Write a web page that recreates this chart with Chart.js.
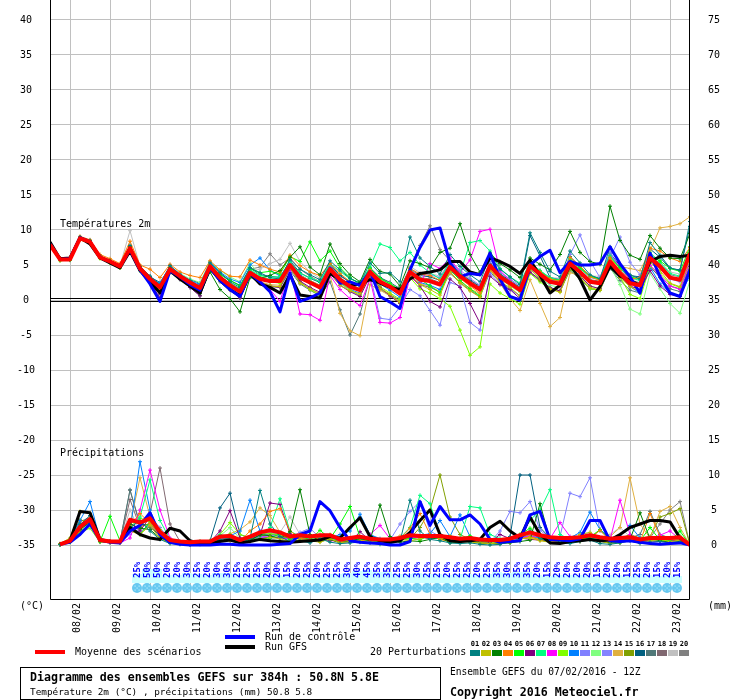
<!DOCTYPE html>
<html>
<head>
<meta charset="utf-8">
<script src="https://cdn.jsdelivr.net/npm/chart.js"></script>
<style>
html,body{margin:0;padding:0;background:#fff;}
#wrap{position:relative;width:740px;height:700px;overflow:hidden;font-family:'DejaVu Sans Mono',monospace;color:#000;}
#c{position:absolute;left:0;top:0;}
.t{position:absolute;white-space:nowrap;font-size:10px;line-height:12px;}
.b{font-weight:bold;font-size:11.6px;line-height:14px;}
.sw{position:absolute;width:10px;height:6px;top:650px;}
.sn{position:absolute;top:640px;width:11px;text-align:center;font-size:7px;font-weight:bold;line-height:8px;}
</style>
</head>
<body>
<div id="wrap">
<canvas id="c" width="740" height="700"></canvas>
<div class="t" style="left:60px;top:218px;">Températures 2m</div>
<div class="t" style="left:60px;top:447px;">Précipitations</div>
<div class="t" style="left:20px;top:600px;">(°C)</div>
<div class="t" style="left:708px;top:600px;">(mm)</div>
<div style="position:absolute;left:35px;top:650px;width:30px;height:4px;background:#ff0000;"></div>
<div class="t" style="left:75px;top:646px;">Moyenne des scénarios</div>
<div style="position:absolute;left:225px;top:635px;width:30px;height:4px;background:#0000ff;"></div>
<div class="t" style="left:265px;top:631px;">Run de contrôle</div>
<div style="position:absolute;left:225px;top:645px;width:30px;height:4px;background:#000;"></div>
<div class="t" style="left:265px;top:641px;">Run GFS</div>
<div class="t" style="left:370px;top:646px;">20 Perturbations</div>
<div id="legsw"></div>
<div style="position:absolute;left:20px;top:667px;width:419px;height:31px;border:1px solid #000;"></div>
<div class="t b" style="left:30px;top:670px;">Diagramme des ensembles GEFS sur 384h : 50.8N 5.8E</div>
<div class="t" style="left:30px;top:686px;font-size:9.4px;">Température 2m (°C) , précipitations (mm) 50.8 5.8</div>
<div class="t" style="left:450px;top:666px;font-size:9.6px;">Ensemble GEFS du 07/02/2016 - 12Z</div>
<div class="t b" style="left:450px;top:685px;">Copyright 2016 Meteociel.fr</div>
</div>
<script>
// ---------- DATA ----------
const dateLabels = ['08/02','09/02','10/02','11/02','12/02','13/02','14/02','15/02','16/02','17/02','18/02','19/02','20/02','21/02','22/02','23/02'];
const dayHours = [12,36,60,84,108,132,156,180,204,228,252,276,300,324,348,372];
const tempHours = []; for (let h = 0; h <= 384; h += 6) tempHours.push(h);
const precipHours = []; for (let h = 6; h <= 384; h += 6) precipHours.push(h);
const pctHours = []; for (let h = 54; h <= 378; h += 6) pctHours.push(h);
const pctValues = [25,50,50,20,20,30,25,20,30,30,25,25,25,20,20,15,20,25,20,25,25,30,40,45,35,35,25,25,30,
  25,25,20,25,25,20,25,35,30,35,35,20,15,20,20,20,20,15,20,20,15,25,20,15,20,15];
const pertColors = ['#008080','#c0c000','#008000','#ff8000','#00ff00','#800080','#00ff80','#ff00ff','#80ff00','#0080ff',
  '#8080ff','#80ff80','#8484ff','#e0b040','#80a000','#006080','#507878','#806870','#c0c0c0','#808080'];

const tempMean = [7.9,5.8,5.8,8.8,8.3,6.1,5.5,4.8,7.4,4.5,3.0, 1.8,4.4,3.4,2.5,1.7,4.8,3.2,2.1,1.2,3.9, 3.0,2.7,2.7,5.0,3.2,2.5,1.8,4.4,2.9,1.9, 1.4,4.0,2.6,1.9,0.9,4.0,2.9,2.7,2.2,4.7, 3.4,2.4,1.5,4.9,3.3,2.4,1.4,4.9,3.7,2.6, 2.3,5.2,4.0,2.6,2.4,5.5,3.8,2.4,2.1,6.0, 4.8,3.2,2.9,6.7];
const tempCtrl = [8.0,5.8,5.9,8.9,8.3,6.1,5.5,4.8,7.2,4.3,2.3, -0.2,4.2,3.3,2.2,1.4,4.6,2.8,1.5,0.5,3.8, 2.6,1.2,-1.7,3.8,-0.2,0.3,1.0,4.6,2.4,2.6, 2.1,4.1,0.5,-0.3,-1.2,4.3,7.5,10.0,10.3,5.3, 3.3,3.8,3.6,6.7,3.0,0.5,0.0,5.0,6.2,7.1, 3.9,5.5,5.0,5.0,5.2,7.6,5.2,3.3,1.0,6.7, 3.3,1.0,0.5,4.3];
const tempGfs = [8.3,5.9,6.0,8.9,8.0,6.0,5.3,4.6,7.0,4.2,2.6, 1.0,4.2,3.0,2.0,1.0,4.6,2.8,1.5,0.6,3.8, 2.3,1.8,1.0,3.6,0.7,0.5,0.3,3.8,2.9,2.0, 2.3,2.9,2.4,1.8,1.5,3.0,3.8,4.0,4.3,5.5, 5.5,4.0,3.6,6.0,5.5,4.8,3.8,5.7,3.5,1.0, 2.1,5.0,3.0,0.0,1.9,4.8,3.4,2.8,2.1,5.5, 6.2,6.4,6.2,6.4];

const t01 = [8.2,5.9,6.0,9.0,8.5,6.3,5.6,5.0,7.8,4.8,3.4, 2.2,4.9,3.6,2.8,1.9,5.3,3.9,2.6,1.8,4.6, 3.9,3.2,3.0,5.8,4.4,3.6,2.9,5.6,4.3,3.1, 2.4,5.3,3.8,3.9,2.6,9.0,6.0,4.8,3.7,6.5, 4.8,3.6,2.6,6.3,4.4,3.3,2.2,9.6,6.8,4.1, 3.3,7.0,5.3,3.6,3.0,7.6,5.0,3.6,3.0,8.2, 6.4,4.6,4.2,11.2];
const t02 = [7.7,5.7,5.9,8.6,8.1,6.0,5.4,4.6,7.2,4.4,2.8, 1.5,4.2,3.1,2.2,1.3,4.5,2.9,1.6,0.5,3.5, 2.5,2.0,1.9,4.6,2.4,1.6,0.9,3.9,2.1,1.3, 0.9,3.5,1.7,0.8,-0.4,3.6,2.2,1.5,0.7,4.1, 2.4,1.3,0.4,4.4,2.6,1.8,0.6,4.4,3.0,1.6, 1.1,4.6,3.2,1.8,1.4,4.9,3.2,1.9,1.2,5.4, 4.2,2.4,1.9,6.0];
const t03 = [8.0,5.8,5.9,8.9,8.4,6.2,5.6,4.9,7.6,4.6,3.1, 1.2,4.6,3.3,2.0,0.9,4.0,1.5,0.2,-1.7,3.2, 3.1,3.5,4.2,6.1,7.6,4.7,3.6,8.0,5.2,3.6, 2.6,5.8,4.1,3.7,2.0,5.6,5.2,4.6,6.8,7.4, 10.9,6.5,4.0,6.7,5.2,4.3,3.2,6.0,5.1,4.3, 6.5,9.8,6.8,5.5,5.1,13.4,8.5,6.4,5.8,9.2, 7.4,6.0,5.9,9.5];
const t04 = [8.1,6.0,6.1,9.1,8.6,6.5,5.9,5.2,8.4,5.0,4.4, 3.2,5.1,4.0,3.5,3.2,5.6,4.3,3.4,3.3,5.7, 5.0,4.4,4.0,6.4,4.9,4.0,3.5,5.2,3.8,2.6, 2.1,4.3,2.8,2.0,1.1,4.5,3.7,3.5,2.8,5.0, 3.1,2.0,1.0,4.3,3.0,2.1,1.3,4.8,4.0,3.0, 2.7,6.1,4.9,3.3,2.8,6.0,4.2,3.0,3.2,7.4, 7.0,6.0,5.5,7.5];
const t05 = [7.8,5.7,5.7,8.7,8.2,6.0,5.3,4.6,7.1,4.2,2.7, 1.4,4.3,3.4,2.6,1.8,5.0,3.6,2.8,2.0,4.5, 3.9,4.1,3.7,6.2,5.5,8.3,5.6,7.0,4.6,3.2, 2.2,4.5,3.1,2.3,1.4,4.2,3.0,2.0,1.0,4.4, 2.8,1.6,0.6,4.5,3.4,2.6,1.7,5.0,4.1,3.0, 2.8,5.7,4.6,3.4,3.0,6.1,4.6,3.3,3.0,6.3, 5.6,4.5,4.1,7.6];
const t06 = [7.9,5.8,5.8,8.8,8.2,6.1,5.5,4.8,7.3,4.3,2.5, 0.3,4.1,3.0,1.8,0.6,4.6,2.9,1.5,0.3,3.5, 2.5,2.0,1.8,4.5,2.7,1.8,1.1,3.8,2.1,1.2, 0.5,3.4,1.8,0.6,-0.5,3.6,2.0,-0.2,-1.0,3.0, 1.8,-0.5,-3.3,3.4,2.2,1.5,0.2,4.0,2.9,1.7, 1.3,4.5,3.4,2.0,1.6,5.2,3.5,2.0,1.5,4.2, 2.0,0.8,0.5,4.8];
const t07 = [8.0,5.9,5.9,8.9,8.4,6.2,5.6,4.9,7.5,4.6,3.2, 2.0,4.5,3.5,2.6,1.9,5.0,3.4,2.4,1.6,4.3, 3.5,3.3,3.3,5.4,3.8,3.2,2.6,5.2,4.1,3.0, 2.5,4.7,8.0,7.5,5.6,6.8,5.0,3.9,3.0,5.5, 3.7,8.2,8.5,7.0,4.5,3.3,2.4,5.4,4.2,3.2, 2.8,5.9,4.5,3.3,3.0,6.4,4.5,3.2,2.8,6.8, 5.4,3.8,3.4,7.1];
const t08 = [7.8,5.7,5.8,8.7,8.2,6.0,5.4,4.7,7.2,4.3,2.6, 1.0,4.2,3.1,2.0,1.0,4.6,3.0,1.9,1.0,3.7, 2.7,1.5,-0.2,4.4,-2.0,-2.1,-2.9,3.5,1.5,0.2, -0.8,3.0,-3.2,-3.3,-2.5,3.3,2.2,5.2,4.5,6.0, 3.9,5.7,9.8,10.1,4.2,2.8,1.6,5.0,3.8,2.7, 2.0,5.3,4.0,2.6,2.2,6.4,4.8,2.7,2.0,5.0, 3.5,2.0,1.5,5.4];
const t09 = [7.7,5.6,5.7,8.6,8.1,5.9,5.4,4.7,7.3,4.4,2.9, 1.6,4.2,3.2,2.3,1.5,4.7,3.1,2.0,1.2,3.8, 3.0,2.6,2.4,4.7,2.6,1.5,0.6,3.9,2.4,1.5, 0.6,3.5,1.9,1.0,0.1,3.2,1.6,1.0,0.2,-0.9, -4.3,-7.9,-6.7,2.3,1.0,0.2,-0.6,3.8,2.6,1.5, 1.2,4.4,3.2,1.6,1.4,5.1,3.3,0.8,0.2,4.8, 3.8,2.3,1.8,5.0];
const t10 = [8.1,5.9,6.0,8.9,8.4,6.2,5.6,4.9,7.5,4.6,3.1, 2.4,4.9,3.7,2.8,2.2,5.4,4.0,3.0,2.5,5.0, 6.0,4.3,3.4,5.4,3.5,2.5,1.7,4.3,2.6,1.5, 1.0,4.0,2.3,1.4,0.4,3.8,2.5,2.1,1.5,4.2, 3.1,2.2,1.4,4.6,3.3,2.5,1.5,4.8,3.8,2.9, 2.4,5.0,3.8,2.6,2.5,5.3,3.4,1.9,1.0,4.7, 2.3,1.0,0.6,3.5];
const t11 = [7.8,5.7,5.7,8.7,8.2,6.0,5.4,4.7,7.2,4.3,2.7, 1.3,4.0,3.0,2.1,1.2,4.5,2.9,1.8,0.8,3.5, 2.4,2.0,1.9,4.4,2.5,1.6,0.9,4.0,2.4,1.3, 0.7,3.6,-2.6,-2.8,-1.0,1.5,0.6,-1.5,-3.6,2.5, 2.0,-3.2,-4.3,3.8,2.3,1.5,0.6,4.5,3.4,2.4, 2.5,6.5,9.3,5.6,3.2,6.8,4.4,2.6,2.2,5.5, 4.6,3.0,2.6,6.1];
const t12 = [7.9,5.8,5.8,8.8,8.3,6.1,5.5,4.8,7.4,4.6,3.2, 2.3,4.8,3.8,3.0,2.5,5.5,4.2,3.3,2.6,5.3, 3.4,3.0,3.1,5.4,3.5,2.8,2.1,4.7,3.1,2.1, 1.7,4.4,3.0,2.4,1.5,4.3,3.1,2.9,2.3,4.6, 3.3,2.3,1.5,4.6,3.0,2.0,1.1,4.4,3.2,2.1, 1.8,4.6,3.5,2.0,1.6,4.8,2.2,-1.3,-2.0,3.8, 1.6,-0.5,-1.9,2.8];
const t13 = [8.0,5.9,5.9,8.9,8.4,6.2,5.5,4.8,7.4,4.5,3.0, 1.9,4.5,3.5,2.6,1.8,4.9,3.3,2.2,1.4,4.0, 3.2,2.9,2.9,5.2,3.4,2.7,2.0,4.6,3.1,2.1, 1.6,4.3,2.8,2.2,1.3,4.5,3.6,3.6,3.2,5.5, 4.3,3.1,2.1,5.5,4.0,3.0,2.0,5.4,4.2,3.1, 2.9,5.9,4.6,3.2,2.9,6.0,9.0,5.4,3.6,6.2, 4.7,3.3,2.9,6.5];
const t14 = [7.8,5.7,5.8,8.7,8.2,6.0,5.4,4.7,7.2,4.3,2.7, 1.2,4.1,3.1,2.1,1.2,4.5,2.8,1.6,0.7,3.6, 2.6,2.2,2.1,4.6,2.6,1.6,0.8,3.5,-1.9,-4.4, -5.1,2.2,1.4,0.6,-0.3,3.5,2.3,2.0,1.2,3.9, 2.6,1.6,0.9,4.3,2.4,0.2,-1.5,2.9,-0.5,-3.8, -2.5,3.9,3.5,2.5,2.6,5.8,4.8,4.5,4.2,7.0, 10.3,10.5,10.9,11.9];
const t15 = [7.9,5.8,5.8,8.8,8.3,6.1,5.5,4.8,7.4,4.5,2.9, 1.7,4.4,3.4,2.5,1.7,4.8,3.2,2.1,1.2,3.9, 3.0,2.6,2.6,4.9,3.1,2.4,1.7,4.4,2.9,1.9, 1.4,4.1,2.7,2.0,1.0,4.1,3.0,2.8,2.3,4.8, 3.5,2.5,1.6,5.0,3.4,2.5,1.5,5.0,3.8,2.7, 2.4,5.3,4.1,2.7,2.5,5.6,3.9,2.5,2.2,6.1, 4.9,3.3,3.0,6.8];
const t16 = [8.0,5.8,5.9,8.9,8.4,6.2,5.6,4.9,7.4,4.7,3.3, 2.5,4.7,3.6,2.9,2.4,5.2,3.8,2.8,2.1,4.6, 3.6,3.4,3.2,5.6,3.9,3.1,2.5,5.1,3.5,2.6, 2.1,4.6,3.2,2.5,1.6,4.5,3.5,3.3,2.8,5.2, 3.8,2.8,1.9,5.2,3.7,2.8,1.8,9.2,6.3,3.2, 2.9,6.2,4.8,3.4,3.1,6.7,4.9,3.5,3.3,7.3, 6.1,4.5,4.3,10.5];
const t17 = [7.8,5.7,5.7,8.7,8.1,6.0,5.4,4.6,7.1,4.2,2.6, 0.8,3.9,2.9,1.8,0.6,4.3,2.6,1.4,0.3,3.3, 2.4,1.9,1.8,4.2,2.3,1.4,0.6,2.6,-1.4,-5.0, -2.0,3.2,1.5,0.8,-0.1,3.4,2.2,1.8,1.2,3.8, 2.5,1.4,0.5,4.0,2.6,1.6,0.6,3.9,2.8,1.8, 1.3,4.2,3.0,1.6,1.4,4.5,2.8,1.4,1.0,4.8, 3.2,1.6,1.2,5.0];
const t18 = [7.9,5.8,5.8,8.8,8.3,6.1,5.5,4.8,7.5,4.6,3.1, 1.9,4.6,3.6,2.7,1.9,5.0,3.4,2.3,1.4,4.2, 3.3,3.0,2.9,5.4,3.6,2.8,2.1,4.9,3.5,2.5, 2.0,4.5,3.0,2.4,1.5,4.4,3.2,3.0,2.5,4.9, 3.6,2.6,1.7,5.1,3.5,2.6,1.6,5.1,3.9,2.8, 2.6,5.3,4.1,2.7,2.6,5.7,4.0,2.6,2.3,4.6, 3.5,2.0,1.6,5.6];
const t19 = [8.0,5.9,5.9,8.9,8.4,6.2,5.6,4.9,9.9,4.8,3.2, 1.6,4.3,3.3,2.4,1.5,4.6,3.1,2.0,1.0,4.1, 4.4,5.2,5.8,8.1,5.5,4.0,3.1,5.2,3.6,2.4, 2.0,4.6,3.2,2.5,1.6,4.8,3.9,3.8,3.4,5.6, 4.0,3.0,2.1,5.3,3.8,3.0,2.0,5.3,4.2,3.2, 3.1,5.9,4.7,3.4,3.4,6.3,4.3,3.0,2.8,6.6, 5.5,4.0,3.7,7.3];
const t20 = [8.2,6.0,6.0,9.0,8.5,6.3,5.7,5.0,7.7,4.8,3.4, 2.1,4.7,3.6,2.7,2.0,5.0,3.4,2.4,1.6,4.4, 4.7,6.6,5.0,6.0,4.4,3.4,2.6,4.9,3.2,2.2, 1.6,4.4,3.0,2.3,1.3,4.6,7.8,10.6,7.2,5.6, 4.0,2.9,2.0,5.1,3.6,2.7,1.7,5.1,4.0,3.0, 2.7,5.6,4.3,2.9,2.7,5.9,4.1,2.8,2.5,6.4, 5.2,3.6,3.3,7.2];

const precipMean = [0.1,0.6,2.6,3.7,0.7,0.5,0.5,3.6,3.2,3.8, 1.9,0.7,0.5,0.4,0.5,0.5,1.2,1.3,0.7,1.2, 1.8,2.1,1.8,1.2,1.4,1.2,1.4,1.4,0.8,1.0, 1.2,0.9,0.8,0.8,1.0,1.4,1.3,1.3,1.3,1.1, 0.9,1.0,0.8,0.7,0.7,0.9,1.4,1.8,1.4,1.1, 1.0,1.0,1.1,1.4,1.1,0.9,1.0,1.1,0.8,1.0, 1.0,1.0,1.1,0.0];
const precipCtrl = [0.1,0.4,1.5,3.0,0.7,0.4,0.3,2.0,2.8,4.6, 1.5,0.4,0.1,0.0,0.0,0.0,0.1,0.1,0.0,0.0, 0.0,0.0,0.1,0.2,1.5,2.0,6.2,4.9,2.5,0.6, 0.4,0.3,0.2,0.0,0.0,0.5,6.2,2.8,5.5,3.6, 3.6,4.3,3.0,0.8,0.4,0.5,0.6,4.3,4.8,0.8, 0.7,0.6,0.9,3.5,3.5,0.6,0.5,0.6,0.4,0.2, 0.1,0.2,0.3,0.0];
const precipGfs = [0.1,0.6,4.8,4.6,0.8,0.5,0.5,2.5,1.5,1.0, 0.8,2.4,2.0,0.6,0.2,0.3,0.5,0.7,0.3,0.5, 0.8,0.6,0.5,0.4,0.5,0.6,0.7,1.2,1.0,2.5, 3.9,1.2,0.6,0.4,0.6,1.8,3.5,5.0,1.5,0.6, 0.5,0.6,0.8,2.5,3.4,2.0,1.0,4.0,1.5,0.3, 0.2,0.5,0.6,0.8,0.6,0.7,1.5,2.5,3.0,3.5, 3.5,3.3,1.0,0.0];

const p01 = [0.1,0.7,3.0,3.5,0.6,0.4,0.4,2.5,3.5,2.0, 0.8,0.2,0.1,0.0,0.1,0.2,0.8,1.0,0.3,0.9, 7.8,3.0,1.2,0.5,0.6,0.3,0.9,0.4,0.2,0.3, 0.4,0.3,0.1,0.2,0.5,6.4,2.0,0.8,0.6,0.3, 0.2,0.3,0.1,0.0,0.1,0.5,0.8,2.0,0.9,0.4, 0.3,0.2,0.5,0.7,0.2,0.1,0.3,0.6,0.2,0.4, 0.5,0.3,0.4,0.0];
const p02 = [0.2,1.0,4.8,4.5,0.6,0.5,0.3,2.0,1.5,2.8, 0.9,0.3,0.2,0.1,0.2,0.3,0.5,0.6,0.4,0.5, 0.8,1.1,0.9,0.5,0.8,0.6,0.4,0.9,0.3,0.5, 0.6,0.4,0.3,0.2,0.8,0.6,0.9,1.2,1.0,0.7, 0.6,0.4,0.3,0.2,0.3,0.5,0.9,1.0,0.6,0.4, 0.3,0.4,1.5,1.8,0.6,0.2,0.3,0.9,0.4,0.6, 0.8,0.5,0.7,0.0];
const p03 = [0.1,0.5,2.2,3.3,0.5,0.4,0.4,3.0,2.4,2.2, 1.0,0.4,0.2,0.2,0.3,0.2,0.6,1.0,0.3,0.6, 1.5,1.3,0.9,1.9,7.9,1.5,0.5,0.8,0.3,0.6, 0.9,0.6,5.7,1.2,0.4,0.6,0.5,0.8,1.1,0.3, 0.4,0.5,0.3,0.2,0.2,0.3,0.5,0.7,5.9,0.7, 0.5,0.4,0.6,0.9,0.5,0.3,0.4,0.8,4.6,0.9, 0.6,0.4,0.5,0.0];
const p04 = [0.1,0.6,2.0,3.6,0.8,0.5,0.6,2.8,4.5,3.1, 1.3,0.5,0.3,0.2,0.4,0.3,1.0,1.2,0.5,2.0, 3.0,4.8,5.2,2.0,1.0,0.7,1.0,0.8,0.4,0.6, 0.7,0.5,0.3,0.4,0.9,2.4,4.5,1.5,0.8,0.5, 0.5,0.6,0.3,0.2,0.3,0.4,0.8,1.2,0.7,0.5, 0.6,0.8,0.5,0.9,2.1,0.6,0.5,0.8,0.4,4.5, 1.2,0.8,0.9,0.0];
const p05 = [0.1,0.4,1.9,3.0,0.5,4.1,0.6,2.4,1.5,3.3, 1.6,0.5,0.3,0.2,0.3,0.4,1.2,1.5,0.6,0.8, 0.9,1.0,1.6,0.8,1.3,0.7,2.1,0.9,3.0,5.5, 1.1,0.6,0.5,0.3,0.9,1.0,0.7,1.5,0.8,0.6, 0.9,1.3,0.6,0.5,0.4,0.6,1.5,2.4,1.0,0.8, 0.7,0.9,0.8,1.1,2.2,0.8,0.7,0.9,0.6,2.5, 0.7,0.6,2.0,0.0];
const p06 = [0.1,0.6,2.7,3.8,0.6,0.5,0.4,3.2,2.0,4.0, 1.8,0.6,0.4,0.2,0.3,0.4,2.0,4.9,1.0,0.8, 1.4,6.0,5.8,1.6,0.8,0.6,1.1,0.7,0.5,0.4, 1.9,0.6,0.5,0.6,0.7,1.3,1.2,0.9,1.2,0.6, 0.7,0.8,0.5,0.4,1.5,0.9,1.0,0.8,0.7,0.5, 0.4,0.6,0.7,0.9,0.5,0.4,0.6,0.7,0.5,0.6, 0.5,0.6,0.7,0.0];
const p07 = [0.1,0.5,2.3,3.1,0.6,0.4,0.5,2.2,4.0,9.3, 3.5,0.8,0.3,0.3,0.4,0.5,1.5,1.0,0.6,0.9, 1.2,2.5,6.6,2.0,1.2,0.8,1.0,1.1,0.4,0.7, 0.8,0.6,0.4,0.5,1.0,2.5,7.1,5.9,1.4,1.0, 0.8,5.5,5.3,1.5,0.9,0.9,1.2,3.5,5.0,7.9, 1.5,0.8,0.9,1.0,0.8,0.7,0.9,0.8,0.6,0.7, 0.8,0.9,0.9,0.0];
const p08 = [0.1,0.6,2.4,3.4,0.5,0.4,0.3,1.0,5.0,10.7, 5.0,1.0,0.3,0.2,0.3,0.3,0.9,0.8,0.4,0.9, 1.1,1.2,1.0,0.9,1.1,0.8,0.9,0.6,0.6,0.8, 0.7,1.5,2.8,0.9,0.9,1.1,1.0,1.2,1.4,0.8, 0.7,0.8,0.6,0.5,0.6,0.8,1.0,1.3,1.2,0.9, 3.2,1.2,0.9,1.0,0.8,0.7,6.4,1.5,0.6,0.9, 1.4,2.0,0.8,0.0];
const p09 = [0.1,0.4,1.8,2.4,0.4,0.4,0.5,2.6,3.8,3.5, 2.2,0.6,0.3,0.4,0.5,0.6,1.5,3.2,1.5,1.0, 1.6,1.6,1.5,1.0,1.4,0.9,1.3,1.5,0.9,0.8, 1.0,0.7,0.6,0.5,0.8,0.9,1.1,1.0,1.2,1.3, 0.9,0.7,0.5,0.4,0.5,0.6,1.5,1.4,1.2,1.0, 0.8,0.9,1.0,1.4,0.9,0.8,0.7,0.8,0.6,0.8, 0.9,0.7,0.9,0.0];
const p10 = [0.1,0.9,3.5,6.2,0.8,0.4,0.4,2.0,11.9,5.0, 1.5,0.5,0.2,0.2,0.3,0.3,1.1,1.3,2.0,6.4, 2.0,1.2,1.0,0.8,1.1,0.8,0.7,1.0,1.5,2.0, 4.4,1.5,0.9,0.8,0.9,1.3,1.4,1.6,3.5,1.2, 4.3,1.2,0.8,0.6,0.5,0.9,1.0,1.4,1.0,1.2, 1.1,1.0,1.8,4.7,2.2,1.0,1.3,2.8,1.0,0.9, 0.9,0.8,1.0,0.0];
const p11 = [0.1,0.5,2.4,3.6,0.6,0.5,0.4,2.7,1.8,3.0, 1.4,0.6,0.4,0.3,0.3,0.4,1.0,1.1,0.6,0.9, 1.5,1.8,1.6,1.0,1.3,1.0,1.2,1.4,0.7,0.8, 0.8,0.7,0.5,0.6,0.8,1.0,1.1,1.0,0.9,1.0, 0.8,0.9,0.6,0.4,2.0,4.8,4.6,6.2,2.1,1.0, 1.2,7.4,6.9,9.6,2.0,1.0,1.1,1.2,0.8,0.9, 0.8,0.9,0.8,0.0];
const p12 = [0.1,0.5,2.8,3.9,0.7,0.5,0.5,3.3,3.0,3.5, 2.0,0.6,0.3,0.3,0.4,0.4,1.3,2.5,0.9,1.0, 1.5,1.8,1.5,1.0,1.2,1.0,1.5,1.2,0.8,1.0, 1.1,0.8,0.7,0.9,1.0,1.4,1.3,1.5,1.3,1.0, 0.8,0.9,0.6,0.6,0.7,0.9,1.3,1.4,1.1,0.9, 0.9,0.9,1.0,1.3,1.0,0.8,0.9,1.0,0.7,0.8, 0.8,0.9,1.4,0.0];
const p13 = [0.1,0.5,2.5,3.4,0.6,0.4,0.4,1.5,2.8,4.0, 2.5,0.7,0.3,0.3,0.4,0.5,1.0,1.1,0.6,0.9, 1.1,1.4,1.3,1.1,1.8,2.4,1.0,1.3,0.8,0.9, 0.8,0.6,0.6,0.7,3.0,4.8,6.2,2.0,1.2,1.0, 0.7,0.8,0.5,0.5,0.6,0.8,1.1,1.3,1.0,0.8, 0.8,0.9,0.9,1.0,0.9,0.8,0.8,1.0,0.7,0.8, 0.9,0.8,0.8,0.0];
const p14 = [0.1,0.6,2.3,3.2,0.5,0.4,0.4,2.9,9.6,4.0, 1.2,0.5,0.3,0.2,0.3,0.3,0.9,1.6,2.2,3.3, 5.3,4.2,1.8,1.0,1.2,0.9,1.0,0.8,0.6,0.7, 0.6,0.7,0.5,0.6,1.3,1.0,1.2,1.5,1.0,0.8, 0.6,0.7,0.5,0.4,0.5,0.7,0.9,1.1,0.8,0.6, 0.7,0.8,0.8,0.9,0.8,1.2,2.5,9.6,3.0,1.0, 4.8,5.5,2.5,0.0];
const p15 = [0.1,0.8,3.6,3.2,0.6,0.4,0.4,2.2,2.6,3.1, 1.5,0.5,0.3,0.2,0.3,0.3,0.9,1.2,0.5,0.8, 1.3,1.4,1.2,0.9,1.1,0.8,1.0,1.0,0.6,0.8, 0.9,0.6,0.5,0.5,0.7,0.9,2.5,5.0,10.0,4.0, 1.5,0.8,0.5,0.4,0.5,0.7,1.0,1.2,0.9,0.7, 0.7,0.8,0.8,1.0,2.2,0.8,0.9,1.5,1.0,1.2, 4.0,4.5,5.2,0.0];
const p16 = [0.1,0.5,2.9,4.2,0.7,0.5,0.4,3.5,3.0,2.8, 1.2,0.5,0.4,0.3,0.5,0.6,5.3,7.4,1.5,1.0, 1.2,1.0,1.1,0.9,1.0,0.8,0.9,1.2,0.7,0.9, 1.0,0.8,0.6,0.5,0.7,1.0,1.1,1.0,0.9,0.8, 0.7,0.8,0.6,0.5,0.5,1.2,10.0,10.0,2.5,1.0, 0.8,0.9,1.0,1.2,0.9,0.8,0.9,1.0,0.8,0.9, 0.8,0.9,0.9,0.0];
const p17 = [0.1,0.6,2.6,3.9,0.7,0.5,0.5,7.9,3.0,2.5, 1.5,0.6,0.4,0.3,0.4,0.4,1.1,1.3,0.6,0.9, 1.4,1.6,1.4,1.0,1.2,1.0,1.1,1.2,0.7,0.8, 0.9,0.7,0.6,0.5,0.8,1.0,1.1,1.2,1.0,0.9, 0.8,0.9,0.6,0.5,0.6,0.8,1.1,1.3,1.0,0.8, 0.7,0.9,0.8,1.0,0.9,0.7,0.8,1.0,1.5,4.8, 1.5,1.0,1.2,0.0];
const p18 = [0.1,0.6,2.7,3.7,0.6,0.5,0.4,6.5,2.5,4.5, 11.0,3.0,0.5,0.3,0.3,0.4,1.0,1.2,0.6,0.9, 1.3,1.5,1.3,1.0,1.2,1.0,1.2,1.3,0.8,0.9, 1.0,0.8,0.6,0.6,0.9,1.2,1.1,1.2,1.0,0.8, 0.7,0.8,0.6,0.5,0.6,0.8,1.1,1.2,1.0,0.8, 0.8,0.9,0.9,1.0,0.8,0.7,0.8,0.9,0.7,0.8, 0.8,0.9,1.0,0.0];
const p19 = [0.1,0.5,2.3,3.3,0.6,0.4,0.4,5.0,2.0,2.7, 1.3,0.5,0.3,0.3,0.3,0.3,1.0,1.1,0.5,0.8, 1.2,1.5,1.8,4.0,1.5,1.0,1.1,1.0,0.6,0.8, 0.8,0.7,0.5,0.6,0.8,1.0,1.0,1.1,0.9,0.8, 0.7,0.8,0.6,0.5,0.6,0.7,1.0,1.1,0.9,0.7, 0.9,1.2,1.5,1.8,1.0,1.5,2.5,1.2,0.9,0.8, 0.7,0.8,0.9,0.0];
const p20 = [0.1,0.7,3.3,4.0,0.7,0.5,0.5,7.8,2.8,3.0, 1.4,0.6,0.4,0.3,0.4,0.5,1.1,1.3,0.7,1.0, 1.3,1.5,1.4,1.1,1.2,1.0,1.2,1.3,0.8,0.9, 0.9,0.7,0.6,0.6,0.8,1.2,1.1,1.2,1.0,0.9, 0.8,0.9,0.7,0.6,0.7,0.8,1.0,1.2,1.0,0.8, 0.8,0.9,0.9,1.1,0.9,0.8,0.9,1.0,0.8,1.0, 3.0,5.0,6.2,0.0];

const tempPerts = [t01,t02,t03,t04,t05,t06,t07,t08,t09,t10,t11,t12,t13,t14,t15,t16,t17,t18,t19,t20];
const precipPerts = [p01,p02,p03,p04,p05,p06,p07,p08,p09,p10,p11,p12,p13,p14,p15,p16,p17,p18,p19,p20];

// ---------- BUILD ----------
const FONT = "'DejaVu Sans Mono', monospace";
const YMIN = -300/7, YMAX = 300/7;
const toPts = (hours, vals) => vals.map((v, i) => ({x: hours[i], y: v}));

const datasets = [];
function mainSet(hours, vals, color, width, axis) {
  return {data: toPts(hours, vals), yAxisID: axis, borderColor: color, backgroundColor: color,
    borderWidth: width, pointRadius: 0, tension: 0, fill: false};
}
datasets.push(mainSet(tempHours, tempMean, '#ff0000', 4, 'y'));
datasets.push(mainSet(precipHours, precipMean, '#ff0000', 4, 'y2'));
datasets.push(mainSet(tempHours, tempCtrl, '#0000ff', 3, 'y'));
datasets.push(mainSet(precipHours, precipCtrl, '#0000ff', 3, 'y2'));
datasets.push(mainSet(tempHours, tempGfs, '#000000', 3, 'y'));
datasets.push(mainSet(precipHours, precipGfs, '#000000', 3, 'y2'));
for (let k = 0; k < 20; k++) {
  const c = pertColors[k];
  const st = {borderColor: c, backgroundColor: c, borderWidth: 1, pointRadius: 2, pointStyle: 'cross',
    pointBorderWidth: 1, pointBorderColor: c, tension: 0, fill: false};
  datasets.push(Object.assign({data: toPts(tempHours, tempPerts[k]), yAxisID: 'y'}, st));
  datasets.push(Object.assign({data: toPts(precipHours, precipPerts[k]), yAxisID: 'y2'}, st));
}

// legend swatches
const lg = document.getElementById('legsw');
pertColors.forEach((c, k) => {
  const x = 470 + 11 * k;
  const n = document.createElement('div'); n.className = 'sn'; n.style.left = (x - 0.5) + 'px';
  n.textContent = String(k + 1).padStart(2, '0'); lg.appendChild(n);
  const s = document.createElement('div'); s.className = 'sw'; s.style.left = x + 'px'; s.style.background = c; lg.appendChild(s);
});

const decor = {
  id: 'decor',
  beforeDatasetsDraw(chart) {
    const {ctx, chartArea: a, scales} = chart;
    const y0 = scales.y.getPixelForValue(0);
    ctx.save();
    ctx.strokeStyle = '#000'; ctx.lineWidth = 1;
    ctx.beginPath();
    ctx.moveTo(a.left, Math.round(y0) - 1.5); ctx.lineTo(a.right, Math.round(y0) - 1.5);
    ctx.moveTo(a.left, Math.round(y0) + 1.5); ctx.lineTo(a.right, Math.round(y0) + 1.5);
    ctx.stroke();
    pctHours.forEach((h, k) => {
      const x = scales.x.getPixelForValue(h) - 3;
      const hgt = pctValues[k] / 5;
      ctx.fillStyle = '#ccffff';
      ctx.fillRect(x - 5, 583 - hgt - 4, 10, hgt + 4);
    });
    pctHours.forEach((h, k) => {
      const x = scales.x.getPixelForValue(h) - 3;
      ctx.fillStyle = '#66c8f0';
      ctx.beginPath(); ctx.arc(x, 588, 5, 0, Math.PI * 2); ctx.fill();
      ctx.fillStyle = '#b8ecff';
      [[-2,-2],[2,-2],[-2,2],[2,2],[0,0]].forEach(([dx,dy]) => { ctx.fillRect(x + dx - 0.5, 588 + dy - 0.5, 1.2, 1.2); });
      ctx.save();
      ctx.translate(x + 3, 578);
      ctx.rotate(-Math.PI / 2);
      ctx.fillStyle = '#0000ff';
      ctx.font = 'bold 9px ' + FONT;
      ctx.textAlign = 'left'; ctx.textBaseline = 'alphabetic';
      ctx.fillText(pctValues[k] + '%', 0, 0);
      ctx.restore();
    });
    ctx.restore();
  },
  afterDraw(chart) {
    const {ctx, chartArea: a} = chart;
    ctx.save(); ctx.strokeStyle = '#000'; ctx.lineWidth = 1;
    ctx.beginPath();
    ctx.moveTo(a.left + 0.5, a.top); ctx.lineTo(a.left + 0.5, a.bottom - 0.5);
    ctx.lineTo(a.right - 0.5, a.bottom - 0.5); ctx.lineTo(a.right - 0.5, a.top);
    ctx.stroke();
    ctx.restore();
  }
};

const noPad = s => { s.paddingTop = 0; s.paddingBottom = 0; s.paddingLeft = 0; s.paddingRight = 0; };

new Chart(document.getElementById('c'), {
  type: 'line',
  data: {datasets},
  plugins: [decor],
  options: {
    responsive: false, animation: false, devicePixelRatio: 1,
    layout: {padding: 0, autoPadding: false},
    plugins: {legend: {display: false}, tooltip: {enabled: false}},
    elements: {line: {borderJoinStyle: 'round'}},
    scales: {
      x: {type: 'linear', min: 0, max: 384, position: 'bottom',
        afterBuildTicks: s => { s.ticks = dayHours.map(v => ({value: v})); },
        afterFit: s => { s.height = 100; noPad(s); },
        grid: {color: '#c0c0c0', lineWidth: 1, drawTicks: false},
        border: {display: false},
        ticks: {autoSkip: false, minRotation: 90, maxRotation: 90, padding: 3, labelOffset: 7,
          color: '#000', font: {family: FONT, size: 10},
          callback: (v) => dateLabels[dayHours.indexOf(v)]}
      },
      y: {type: 'linear', position: 'left', min: YMIN, max: YMAX,
        afterBuildTicks: s => { const t = []; for (let v = -35; v <= 40; v += 5) t.push({value: v}); s.ticks = t; },
        afterFit: s => { s.width = 50; noPad(s); },
        grid: {color: '#c0c0c0', lineWidth: 1, drawTicks: true, tickLength: 15, tickColor: 'rgba(0,0,0,0)'},
        border: {display: false},
        ticks: {padding: 0, crossAlign: 'center', color: '#000', font: {family: FONT, size: 10}, callback: v => String(v)}
      },
      y2: {type: 'linear', position: 'right', min: YMIN + 35, max: YMAX + 35,
        afterBuildTicks: s => { const t = []; for (let v = 0; v <= 75; v += 5) t.push({value: v}); s.ticks = t; },
        afterFit: s => { s.width = 50; noPad(s); },
        grid: {display: true, drawOnChartArea: false, drawTicks: true, tickLength: 18, tickColor: 'rgba(0,0,0,0)'},
        border: {display: false},
        ticks: {padding: 0, crossAlign: 'center', color: '#000', font: {family: FONT, size: 10}, callback: v => String(v)}
      }
    }
  }
});
</script>
</body>
</html>
